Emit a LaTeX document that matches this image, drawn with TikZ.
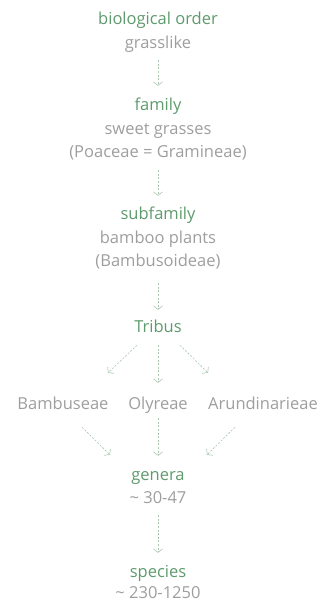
\documentclass[tikz,border=0pt]{standalone}
\usepackage{fontspec}
\setmainfont{Open Sans}
\usetikzlibrary{arrows.meta}
\definecolor{hgreen}{HTML}{5E9A6C}
\definecolor{hgray}{HTML}{9E9E9E}
\definecolor{hline}{HTML}{A9C6B1}
\begin{document}
\begin{tikzpicture}[x=1pt,y=-1pt,
  every node/.style={inner sep=0pt, text height=12pt, text depth=4pt, font=\fontsize{16.5}{19}\selectfont},
  head/.style={text=hgreen},
  sub/.style={text=hgray},
  link/.style={draw=hline, line width=0.6pt, dash pattern=on 2pt off 1.6pt,
    -{Straight Barb[length=3.5pt,width=9pt,line width=0.6pt]}}]
\useasboundingbox (0,0) rectangle (321,603);
\node[head] (order) at (158,20) {biological order};
\node[sub] (grass) at (158,44) {grasslike};
\node[head] (family) at (158,106) {family};
\node[sub] (sweet) at (158,130) {sweet grasses};
\node[sub] (poa) at (158,153) {(Poaceae = Gramineae)};
\node[head] (subfam) at (158,215) {subfamily};
\node[sub] (bamboo) at (158,239) {bamboo plants};
\node[sub] (bambus) at (158,262) {(Bambusoideae)};
\node[head] (tribus) at (158,328) {Tribus};
\node[sub] (bambuseae) at (63,405) {Bambuseae};
\node[sub] (olyreae) at (158,405) {Olyreae};
\node[sub] (arund) at (263,405) {Arundinarieae};
\node[head] (genera) at (158,476) {genera};
\node[sub] (g30) at (158,499) {\textasciitilde{} 30-47};
\node[head] (species) at (158,573) {species};
\node[sub] (s230) at (158,594) {\textasciitilde{} 230-1250};

\draw[link, shorten <=8pt, shorten >=12pt] (grass.south) -- (family.north);
\draw[link, shorten <=9pt, shorten >=11pt] (poa.south) -- (subfam.north);
\draw[link, shorten <=13pt, shorten >=10pt] (bambus.south) -- (tribus.north);
\draw[link, shorten <=9pt, shorten >=14pt] (tribus.south) -- (olyreae.north);
\draw[link] ([shift={(-21,9)}]tribus.south) -- ([shift={(45,-24)}]bambuseae.north);
\draw[link] ([shift={(22,9)}]tribus.south) -- ([shift={(-55,-24)}]arund.north);
\draw[link, shorten <=5pt, shorten >=12pt] (olyreae.south) -- (genera.north);
\draw[link] ([shift={(19,14)}]bambuseae.south) -- ([shift={(-48,-13)}]genera.north);
\draw[link] ([shift={(-28,14)}]arund.south) -- ([shift={(49,-13)}]genera.north);
\draw[link, shorten <=8pt, shorten >=12pt] (g30.south) -- (species.north);
\end{tikzpicture}
\end{document}
